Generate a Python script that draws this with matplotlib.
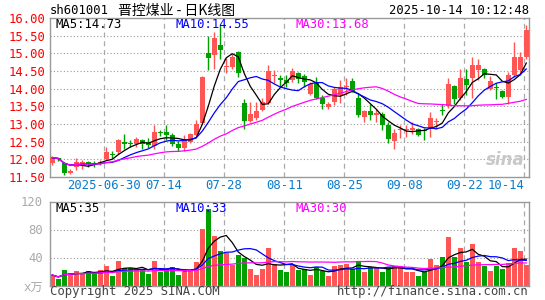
import matplotlib.pyplot as plt
import numpy as np
import pandas as pd


######## data ########

opens = [11.90, 12.03, 11.90, 11.62, 11.78, 11.83, 11.92, 11.90, 11.86, 12.02,
         12.15, 12.21, 12.48, 12.46, 12.42, 12.56, 12.50, 12.38, 12.76, 12.78,
         12.70, 12.44, 12.32, 12.50, 12.70, 13.04, 15.02, 14.95, 15.23, 14.60,
         14.62, 15.05, 13.60, 13.09, 13.16, 13.40, 13.60, 14.37, 14.30, 14.24,
         14.25, 14.43, 14.36, 13.86, 14.19, 13.74, 13.48, 13.62, 13.81, 14.05,
         14.21, 13.74, 13.20, 13.36, 13.26, 13.29, 12.96, 12.51, 12.82, 12.83,
         12.82, 12.86, 12.83, 12.85, 13.06, 13.40, 13.51, 14.08, 13.74, 14.27,
         14.29, 14.52, 14.55, 14.00, 14.06, 13.93, 13.77, 14.40, 14.52, 14.90]
highs = [12.10, 12.05, 11.93, 11.73, 12.05, 11.99, 11.96, 11.96, 11.99, 12.35,
         12.25, 12.57, 12.71, 12.55, 12.63, 12.58, 12.60, 12.96, 12.84, 12.96,
         12.75, 12.52, 12.68, 12.75, 13.10, 14.35, 15.50, 15.59, 15.80, 14.86,
         14.97, 15.08, 13.72, 13.63, 13.63, 13.75, 14.67, 14.53, 14.39, 14.39,
         14.58, 14.48, 14.41, 14.20, 14.33, 13.81, 13.62, 14.05, 14.24, 14.29,
         14.29, 13.89, 13.39, 13.58, 13.42, 13.34, 13.07, 12.85, 12.96, 12.96,
         13.05, 12.88, 12.88, 13.34, 13.17, 13.58, 14.30, 14.10, 14.57, 14.55,
         14.90, 14.85, 14.58, 14.35, 14.16, 13.96, 14.48, 15.33, 15.04, 15.80]
lows = [11.85, 11.95, 11.55, 11.59, 11.70, 11.74, 11.78, 11.78, 11.84, 11.99,
        12.05, 12.16, 12.30, 12.35, 12.35, 12.30, 12.32, 12.30, 12.66, 12.56,
        12.37, 12.25, 12.24, 12.45, 12.65, 13.00, 14.52, 14.57, 14.85, 14.43,
        14.55, 14.34, 12.85, 13.06, 13.11, 13.38, 13.58, 14.16, 14.05, 14.05,
        14.20, 14.15, 14.05, 13.82, 13.72, 13.43, 13.42, 13.53, 13.60, 13.81,
        13.91, 13.20, 13.05, 13.10, 13.05, 12.82, 12.46, 12.30, 12.60, 12.63,
        12.72, 12.66, 12.56, 12.63, 12.87, 13.25, 13.45, 13.58, 13.67, 13.81,
        13.74, 14.24, 14.29, 13.95, 13.70, 13.74, 13.58, 14.33, 14.40, 14.85]
closes = [12.05, 12.00, 11.62, 11.67, 11.93, 11.92, 11.88, 11.86, 11.93, 12.22,
          12.12, 12.54, 12.42, 12.44, 12.57, 12.44, 12.40, 12.77, 12.74, 12.70,
          12.42, 12.32, 12.58, 12.72, 13.01, 14.33, 14.88, 15.44, 15.09, 14.63,
          14.91, 14.43, 13.08, 13.28, 13.38, 13.61, 14.51, 14.40, 14.24, 14.16,
          14.51, 14.26, 14.19, 14.12, 13.74, 13.58, 13.58, 13.98, 14.05, 14.08,
          13.93, 13.25, 13.36, 13.25, 13.30, 12.96, 12.58, 12.75, 12.85, 12.86,
          12.88, 12.70, 12.80, 13.17, 13.09, 13.38, 14.13, 13.70, 14.29, 14.10,
          14.66, 14.66, 14.40, 14.21, 14.01, 13.77, 14.40, 14.90, 14.90, 15.66]
volumes = [15, 9.5, 22, 17.6, 21, 16.7, 21, 16.7, 22, 28,
           12.9, 35, 25, 25, 23, 22, 17, 35, 18.6, 23,
           27, 15, 21, 21, 34, 81, 110, 71, 49.5, 46,
           29.5, 43, 39, 24, 15, 24, 54, 31, 22, 18.6,
           29.5, 22, 23, 15, 26, 21, 13, 28, 29.5, 31,
           24, 33, 19.5, 26, 26, 20, 26, 28, 26, 18.6,
           20, 13.8, 18.6, 38, 29.5, 41, 70, 41, 54, 34,
           59.5, 34, 28, 21, 28, 24, 32, 54, 48.6, 29.5]

date_idx = [9, 19, 29, 39, 49, 59, 69, 79]
date_labels = ['2025-06-30', '07-14', '07-28', '08-11', '08-25', '09-08', '09-22', '10-14']

price_ticks = [16.00, 15.50, 15.00, 14.50, 14.00, 13.50, 13.00, 12.50, 12.00, 11.50]
vol_ticks = [120, 80, 40]

ma_price_labels = ['MA5:14.73', 'MA10:14.55', 'MA30:13.68']
ma_vol_labels = ['MA5:35', 'MA10:33', 'MA30:30']


######## styles ########

RED = '#ff5555'
GREEN = '#00a000'
GRID = '#999999'
MONO = 'DejaVu Sans Mono'
W, H = 545, 300

o = np.array(opens)
c = np.array(closes)
hi = np.array(highs)
lo = np.array(lows)
v = np.array(volumes)
x = np.arange(len(c))
up = c >= o
cols = np.where(up, RED, GREEN)

cs = pd.Series(c)
vs = pd.Series(v)
ma_cols = ['black', '#0000ff', '#ff00ff']


def fx(px):
    return px / W


def fy(py):
    return 1 - py / H


fig = plt.figure(figsize=(W / 100, H / 100), dpi=100)
fig.patch.set_facecolor('white')

ax = fig.add_axes([fx(50), fy(177), fx(529) - fx(50), fy(18) - fy(177)])
axv = fig.add_axes([fx(50), fy(285.5), fx(529) - fx(50), fy(201.5) - fy(285.5)])

for a in (ax, axv):
    a.set_xlim(-0.38, 79.45)
    for s in a.spines.values():
        s.set_color(GRID)
        s.set_linewidth(1)
    a.tick_params(length=0)
    for d in date_idx:
        a.axvline(d - 0.35, color='#aaaaaa', lw=0.9, ls=(0, (4, 3)), zorder=0)

######## price panel ########

ax.set_ylim(11.5, 16.0)
for p in price_ticks[1:-1]:
    ax.axhline(p, color=GRID, lw=0.8, ls=(0, (1, 2)), zorder=0)
ax.set_yticks(price_ticks)
ax.set_yticklabels(['%.2f' % p for p in price_ticks], color='red',
                   fontsize=8.8, family=MONO)
ax.tick_params(axis='y', pad=3)
ax.set_xticks([])

ax.vlines(x, lo, hi, colors=cols, lw=1, zorder=2)
body = np.maximum(np.abs(c - o), 0.012)
ax.bar(x, body, bottom=np.minimum(o, c), width=0.75, color=cols, zorder=3)

for n, col in zip([5, 10, 30], ma_cols):
    ax.plot(x, cs.rolling(n, min_periods=1).mean(), color=col, lw=0.9, zorder=4)

for lbl, col, px in zip(ma_price_labels, ma_cols, [55, 175, 295]):
    ax.text(fx(px), fy(18.5), lbl, transform=fig.transFigure, color=col,
            fontsize=8.8, family=MONO, va='top', ha='left')

for d, lbl in zip(date_idx, date_labels):
    ha = 'right' if d == date_idx[-1] else 'center'
    ax.text(d - 0.35, -0.055, lbl, transform=ax.get_xaxis_transform(),
            color='#0a7ccc', fontsize=8.8, family=MONO, ha=ha, va='center')

ax.text(fx(525), fy(160), 'sina', transform=fig.transFigure, color='#c8c8c8',
        fontsize=12, style='italic', weight='bold', ha='right', va='center', zorder=1)

######## volume panel ########

axv.set_ylim(0, 120)
for t in [40, 80]:
    axv.axhline(t, color=GRID, lw=0.8, ls=(0, (1, 2)), zorder=0)
axv.set_yticks(vol_ticks + [0])
axv.set_yticklabels([str(t) for t in vol_ticks] + ['x万'], color='#aaaaaa',
                    fontsize=8.8, family=[MONO, 'Noto Sans CJK SC'])
axv.tick_params(axis='y', pad=5)
axv.set_xticks([])
axv.bar(x, v, width=0.8, color=cols, zorder=2)
for n, col in zip([5, 10, 30], ma_cols):
    axv.plot(x, vs.rolling(n, min_periods=1).mean(), color=col, lw=0.9, zorder=4)

for lbl, col, px in zip(ma_vol_labels, ma_cols, [55, 175, 295]):
    axv.text(fx(px), fy(202), lbl, transform=fig.transFigure, color=col,
             fontsize=8.8, family=MONO, va='top', ha='left')

######## header / footer ########

fig.text(fx(50), fy(11), 'sh601001', color='black', fontsize=8.8, family=MONO,
         ha='left', va='center')
fig.text(fx(177), fy(11), '晋控煤业 - 日K线图', color='black', fontsize=10,
         family=['Noto Sans CJK SC', 'DejaVu Sans'], ha='center', va='center')
fig.text(fx(529), fy(11), '2025-10-14 10:12:48', color='black', fontsize=8.8,
         family=MONO, ha='right', va='center')
fig.text(fx(50), fy(292), 'Copyright 2025 SINA.COM', color='#444444', fontsize=8.8,
         family=MONO, ha='left', va='center')
fig.text(fx(529), fy(292), 'http://finance.sina.com.cn', color='#444444', fontsize=8.8,
         family=MONO, ha='right', va='center')

plt.savefig('out.png', dpi=100)
